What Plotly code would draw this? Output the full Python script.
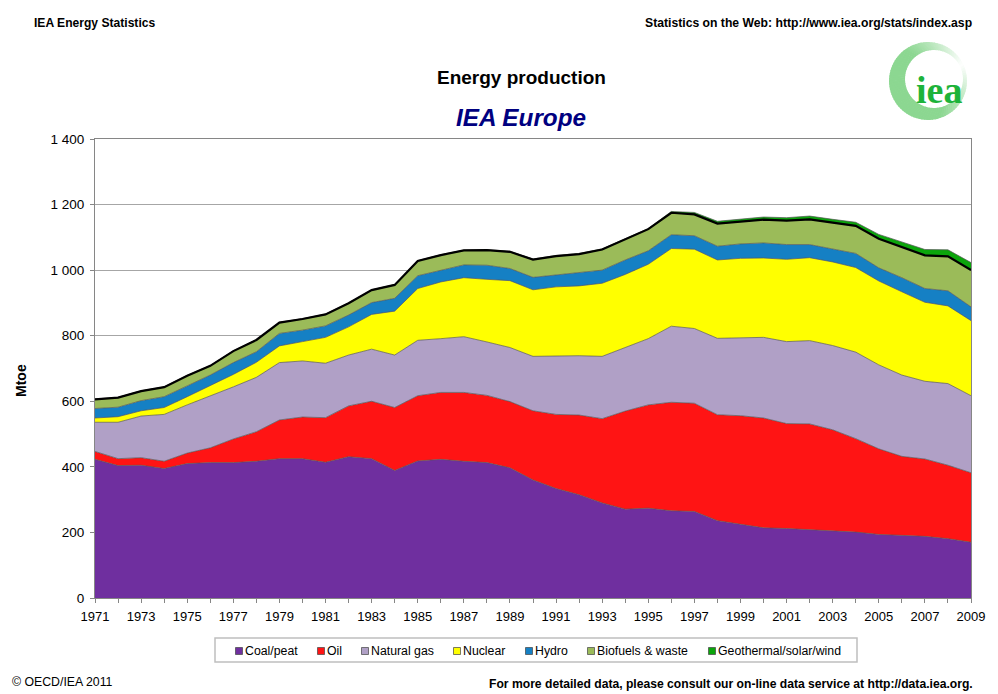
import math
import plotly.graph_objects as go

# Data (Mtoe)
years = list(range(1971, 2010))
coal = [423, 404, 405, 395, 410, 413, 413, 417, 425, 425, 414, 431, 425, 389, 418, 423, 417, 413, 397, 360,
        334, 315, 290, 271, 274, 266, 264, 236, 225, 214, 212, 209, 206, 201, 194, 191, 188, 181, 170]
oil = [24, 21, 23, 22, 32, 45, 72, 90, 118, 127, 136, 155, 175, 192, 199, 204, 210, 205, 202, 211,
       226, 243, 257, 299, 315, 331, 330, 323, 331, 335, 320, 322, 307, 285, 261, 241, 236, 224, 212]
gas = [89, 111, 127, 143, 147, 158, 159, 166, 175, 171, 166, 155, 159, 160, 169, 164, 170, 163, 165, 166,
       178, 181, 190, 193, 202, 232, 228, 233, 238, 246, 250, 254, 257, 264, 256, 248, 237, 249, 235]
nuclear = [13, 17, 16, 21, 25, 31, 38, 46, 51, 59, 79, 86, 106, 134, 158, 173, 180, 191, 204, 203,
           211, 213, 223, 224, 227, 237, 242, 239, 242, 242, 251, 253, 255, 258, 256, 254, 241, 237, 229]
hydro = [29, 29, 31, 33, 33, 33, 36, 32, 38, 35, 35, 36, 36, 39, 39, 36, 39, 43, 37, 38,
         36, 40, 40, 44, 41, 42, 41, 42, 44, 46, 45, 40, 39, 43, 40, 43, 42, 46, 42]
biofuels = [28, 29, 29, 29, 31, 28, 35, 36, 33, 34, 35, 36, 38, 41, 45, 46, 44, 46, 51, 54,
            58, 57, 63, 63, 66, 67, 65, 69, 69, 71, 73, 77, 81, 84, 89, 94, 101, 105, 112]
geothermal = [1, 1, 1, 1, 1, 1, 1, 1, 1, 1, 1, 1, 1, 1, 1, 1, 1, 1, 2, 2,
              2, 2, 2, 2, 2, 4, 6, 7, 6, 8, 9, 10, 10, 11, 13, 14, 18, 20, 23]

names = ["Coal/peat", "Oil", "Natural gas", "Nuclear", "Hydro", "Biofuels & waste", "Geothermal/solar/wind"]
colors = ["#6F2F9F", "#FF1414", "#B0A0C6", "#FFFF00", "#1580C4", "#9BBB59", "#0BA50B"]
y_ticks = [0, 200, 400, 600, 800, 1000, 1200, 1400]
y_labels = ["0", "200", "400", "600", "800", "1 000", "1 200", "1 400"]
x_labels = [str(y) if (y - 1971) % 2 == 0 else "" for y in years]

FONT = "Liberation Sans"
W, H = 998, 694
L, R, T, B = 95, 971, 139, 598


# pixel position on the page -> paper coordinates
def px(x):
    return (x - L) / (R - L)


def py(y):
    return (B - y) / (B - T)


def label(text, x, y, size, xanchor="left", bold=False, italic=False, color="#000000", angle=0):
    if bold:
        text = "<b>" + text + "</b>"
    if italic:
        text = "<i>" + text + "</i>"
    fig.add_annotation(text=text, x=px(x), y=py(y), xref="paper", yref="paper", showarrow=False,
                       xanchor=xanchor, yanchor="middle", textangle=angle,
                       font=dict(family=FONT, size=size, color=color))


fig = go.Figure()

series = [coal, oil, gas, nuclear, hydro, biofuels, geothermal]
for name, color, values in zip(names, colors, series):
    fig.add_trace(go.Scatter(x=years, y=values, name=name, mode="lines", stackgroup="one",
                             fillcolor=color, line=dict(color="#555555", width=0.7)))

# heavy black edge on top of biofuels
biofuels_top = [sum(v) for v in zip(coal, oil, gas, nuclear, hydro, biofuels)]
fig.add_trace(go.Scatter(x=years, y=biofuels_top, mode="lines", line=dict(color="#000000", width=2.2)))

fig.update_layout(
    width=W, height=H, showlegend=False,
    paper_bgcolor="white", plot_bgcolor="white",
    margin=dict(l=L, r=W - R, t=T, b=H - B, pad=0),
    font=dict(family=FONT, size=14, color="#000000"),
    xaxis=dict(range=[1971, 2009], tickmode="array", tickvals=years, ticktext=x_labels, tickangle=0,
               ticks="outside", ticklen=4, tickcolor="#868686", showgrid=False, showline=True,
               linecolor="#868686", linewidth=1, mirror=True, tickfont=dict(size=13), ticklabelstandoff=2),
    yaxis=dict(range=[0, 1400], tickmode="array", tickvals=y_ticks, ticktext=y_labels,
               ticks="outside", ticklen=4, tickcolor="#868686", showgrid=True, gridcolor="#A6A6A6",
               gridwidth=1, showline=True, linecolor="#868686", linewidth=1, mirror=True,
               tickfont=dict(size=13.5), zeroline=False, ticklabelstandoff=3),
)

# header and footer
label("IEA Energy Statistics", 32, 22.7, 12.1, bold=True)
label("Statistics on the Web: http://www.iea.org/stats/index.asp", 974, 22.7, 12.2, xanchor="right", bold=True)
label("Energy production", 521, 77.5, 19, xanchor="center", bold=True)
label("IEA Europe", 521, 117, 24.3, xanchor="center", bold=True, italic=True, color="#000080")
label("Mtoe", 21, 381, 14, xanchor="center", bold=True, angle=-90)
label("© OECD/IEA 2011", 10, 682, 12.3)
label("For more detailed data, please consult our on-line data service at http://data.iea.org.", 975, 684, 12.15,
      xanchor="right", bold=True)

# legend box, placed by hand like the Excel one
fig.add_shape(type="rect", xref="paper", yref="paper", x0=px(215), x1=px(857), y0=py(662), y1=py(638),
              line=dict(color="#BFBFBF", width=1.5), fillcolor="white")
swatch_x = [239, 321, 365, 457, 529, 591, 712]
for name, color, sx in zip(names, colors, swatch_x):
    fig.add_shape(type="rect", xref="paper", yref="paper", x0=px(sx - 3.5), x1=px(sx + 3.5), y0=py(654.5), y1=py(647.5),
                  line=dict(color="#444444", width=0.7), fillcolor=color)
    label(name.replace("&", "&amp;"), sx + 4, 651, 12.3)

# logo: crescent ring fading out towards the upper right
cx, cy, outer = 928, 81, 39
inner_cx, inner_cy, inner = 934, 79, 29
steps = 90
for i in range(steps):
    a0 = 2 * math.pi * i / steps
    a1 = 2 * math.pi * (i + 1.3) / steps
    d = abs((math.degrees(a0) - 25 + 180) % 360 - 180) / 180
    k = min(1, d * 1.8)
    col = "rgb(%d,%d,%d)" % (255 - 115 * k, 255 - 40 * k, 255 - 110 * k)
    pts = [(cx + outer * math.cos(a0), cy - outer * math.sin(a0)),
           (cx + outer * math.cos(a1), cy - outer * math.sin(a1)),
           (inner_cx + inner * math.cos(a1), inner_cy - inner * math.sin(a1)),
           (inner_cx + inner * math.cos(a0), inner_cy - inner * math.sin(a0))]
    path = "M " + " L ".join(f"{px(p[0]):.5f} {py(p[1]):.5f}" for p in pts) + " Z"
    fig.add_shape(type="path", xref="paper", yref="paper", path=path, fillcolor=col, line=dict(width=0))
fig.add_annotation(text="<b>iea</b>", x=px(939), y=py(90), xref="paper", yref="paper", showarrow=False,
                   xanchor="center", yanchor="middle",
                   font=dict(family="Liberation Serif", size=38, color="#1DB33A"))

fig.write_html("out.html", config=dict(displayModeBar=False), post_script="document.body.style.margin='0';")
